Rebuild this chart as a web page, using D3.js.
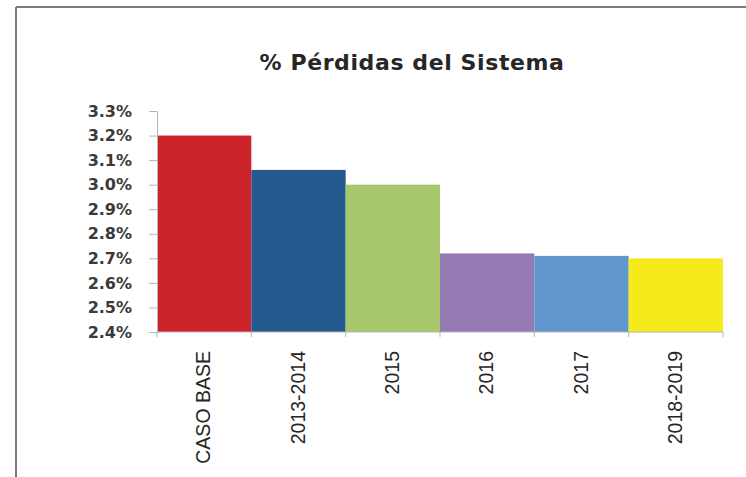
<!DOCTYPE html>
<html>
<head>
<meta charset="utf-8">
<script src="https://cdn.jsdelivr.net/npm/d3@7"></script>
<style>
  body { margin: 0; background: #fff; }
  svg { display: block; }
</style>
</head>
<body>
<div class="chart"></div>
<script>
// Data
const categories = ["CASO BASE", "2013-2014", "2015", "2016", "2017", "2018-2019"];
const losses = [3.20, 3.06, 3.00, 2.72, 2.71, 2.70];
const barColors = ["#cc2229", "#255a8e", "#a8c66c", "#9479b3", "#5f96cb", "#f7ea1c"];
const yTicks = [2.4, 2.5, 2.6, 2.7, 2.8, 2.9, 3.0, 3.1, 3.2, 3.3];

const W = 746, H = 477;
const margin = {top: 111, right: 23, bottom: 145, left: 157};
const w = W - margin.left - margin.right;
const h = H - margin.top - margin.bottom;

const svg = d3.select(".chart")
    .append("svg")
        .attr("width", W)
        .attr("height", H);

// frame lines (top and left)
svg.append("line")
    .attr("x1", 16).attr("x2", W).attr("y1", 7).attr("y2", 7)
    .attr("stroke", "#7a7a7a").attr("stroke-width", 2);
svg.append("line")
    .attr("x1", 16).attr("x2", 16).attr("y1", 7).attr("y2", H)
    .attr("stroke", "#7a7a7a").attr("stroke-width", 2);

// title
svg.append("text")
    .attr("x", 412)
    .attr("y", 70)
    .attr("text-anchor", "middle")
    .style("font-family", "'DejaVu Sans', sans-serif")
    .style("font-weight", "bold")
    .style("font-size", "22px")
    .style("letter-spacing", "0.6px")
    .style("fill", "#262626")
    .text("% Pérdidas del Sistema");

const g = svg.append("g")
    .attr("transform", "translate(" + margin.left + "," + margin.top + ")");

const x = d3.scaleBand()
    .domain(categories)
    .range([0, w])
    .padding(0);

const y = d3.scaleLinear()
    .domain([2.4, 3.3])
    .range([h, 0]);

// bars
g.selectAll("rect")
    .data(categories)
    .enter()
    .append("rect")
        .attr("x", d => x(d))
        .attr("y", (d, i) => y(losses[i]))
        .attr("width", x.bandwidth())
        .attr("height", (d, i) => h - y(losses[i]))
        .attr("fill", (d, i) => barColors[i]);

// y axis
const yAxis = g.append("g")
    .call(d3.axisLeft(y).tickValues(yTicks).tickSize(8).tickPadding(17)
        .tickFormat(d => d.toFixed(1) + "%"));
yAxis.selectAll("path, line").attr("stroke", "#b5b5b5");
yAxis.selectAll("text")
    .style("font-family", "'DejaVu Sans', sans-serif")
    .style("font-weight", "bold")
    .style("font-size", "16px")
    .style("fill", "#3a3a3a");

// x axis with ticks at band edges
const xAxis = g.append("g")
    .attr("transform", "translate(0," + h + ")");
xAxis.append("line")
    .attr("x1", 0).attr("x2", w)
    .attr("stroke", "#b5b5b5");
xAxis.selectAll(".edge")
    .data(categories.concat([null]))
    .enter()
    .append("line")
        .attr("class", "edge")
        .attr("x1", (d, i) => i * x.step())
        .attr("x2", (d, i) => i * x.step())
        .attr("y1", 0).attr("y2", 5)
        .attr("stroke", "#b5b5b5");
xAxis.selectAll(".lbl")
    .data(categories)
    .enter()
    .append("text")
        .attr("class", "lbl")
        .attr("transform", d => "translate(" + (x(d) + x.bandwidth() / 2 + 6) + ",19)rotate(-90)")
        .attr("text-anchor", "end")
        .style("font-family", "'Liberation Sans Narrow', 'Liberation Sans', sans-serif")
        .style("font-size", "19.5px")
        .style("fill", "#262626")
        .text(d => d);
</script>
</body>
</html>
